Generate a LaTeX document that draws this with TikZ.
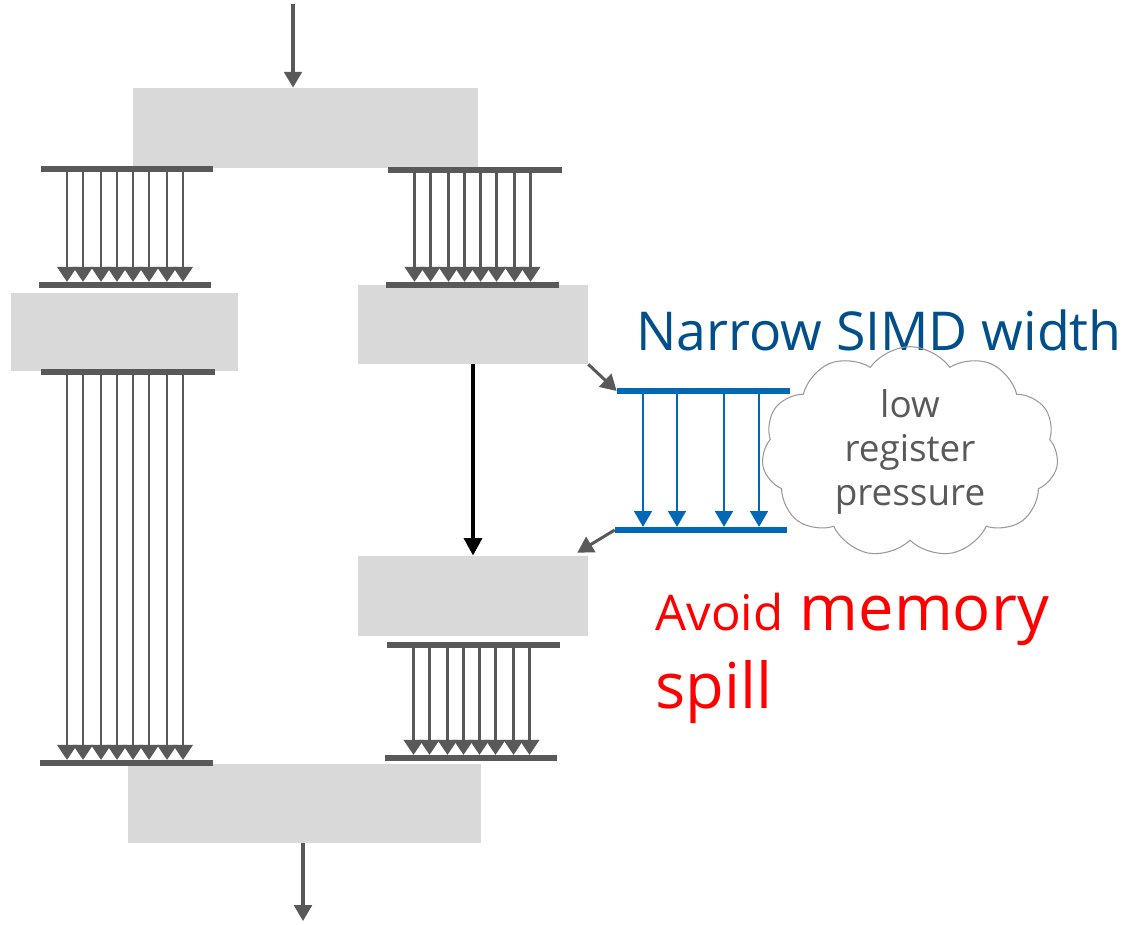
\documentclass[tikz,border=0pt]{standalone}
\usepackage{fontspec}
\setmainfont{Open Sans}
\usepackage{tikz}
\usetikzlibrary{arrows.meta, shapes.symbols, calc}
\definecolor{blkgray}{RGB}{217,217,217}
\definecolor{bargray}{RGB}{89,89,89}
\definecolor{simdblue}{RGB}{0,104,181}
\definecolor{titleblue}{RGB}{0,78,138}
\tikzset{
  blk/.style={rectangle, fill=blkgray, inner sep=0pt},
  bar/.style={rectangle, fill=bargray, minimum height=0.11cm, inner sep=0pt},
  nbar/.style={rectangle, fill=simdblue, minimum height=0.11cm, inner sep=0pt},
  lane/.style={-{Triangle[width=11pt,length=8.5pt]}, draw=bargray, line width=1.5pt},
  nlane/.style={-{Triangle[width=10pt,length=9pt]}, draw=simdblue, line width=1.6pt},
  link/.style={-{Triangle[width=10pt,length=9pt]}, draw=bargray, line width=1.7pt},
  io/.style={-{Triangle[width=10pt,length=9pt]}, draw=bargray, line width=1.9pt},
  flow/.style={-{Triangle[width=10pt,length=10pt]}, draw=black, line width=2.6pt},
  note/.style={cloud, cloud puffs=11, cloud puff arc=110, aspect=1.6, inner sep=0pt, draw=gray!80, line width=0.6pt, align=center, text=bargray, font=\fontsize{21}{25}\selectfont},
}

\begin{document}
\begin{tikzpicture}[x=0.02cm, y=-0.02cm]
\useasboundingbox (0,0) rectangle (1129,924);

% blocks
\node[blk, minimum width=6.9cm, minimum height=1.6cm] (topblk) at (305.5,128) {};
\node[blk, minimum width=4.54cm, minimum height=1.56cm] (leftblk) at (124.5,332) {};
\node[blk, minimum width=4.6cm, minimum height=1.58cm] (rtopblk) at (473,324.5) {};
\node[blk, minimum width=4.6cm, minimum height=1.6cm] (rbotblk) at (473,596) {};
\node[blk, minimum width=7.06cm, minimum height=1.58cm] (botblk) at (304.5,803.5) {};

% lane bars
\node[bar, minimum width=3.44cm] (tlA) at (127,169) {};
\node[bar, minimum width=3.44cm] (tlB) at (125,285) {};
\node[bar, minimum width=3.48cm] (trA) at (475,170) {};
\node[bar, minimum width=3.46cm] (trB) at (472.5,285) {};
\node[bar, minimum width=3.48cm] (llA) at (128,372) {};
\node[bar, minimum width=3.46cm] (llB) at (126.5,763) {};
\node[bar, minimum width=3.46cm] (rlA) at (473.5,645) {};
\node[bar, minimum width=3.44cm] (rlB) at (471,758) {};
\node[nbar, minimum width=3.46cm] (nA) at (703.5,391) {};
\node[nbar, minimum width=3.44cm] (nB) at (701,530) {};

% wide lanes
\foreach \d in {0,16,34,50,66,82,100,116} {
  \draw[lane] ({67+\d},0 |- tlA.south) -- ({67+\d},0 |- tlB.north);
  \draw[lane] ({414.5+\d},0 |- trA.south) -- ({414.5+\d},0 |- trB.north);
  \draw[lane] ({67+\d},0 |- llA.south) -- ({67+\d},0 |- llB.north);
  \draw[lane] ({413.5+\d},0 |- rlA.south) -- ({413.5+\d},0 |- rlB.north);
}

% narrow lanes
\foreach \x in {643,677,724,759}
  \draw[nlane] (\x,0 |- nA.south) -- (\x,0 |- nB.north);

\coordinate (src) at (293,4);
\coordinate (sink) at (303,921);
\draw[io] (src) -- (src |- topblk.north);
\draw[io] (botblk.south -| sink) -- (sink);
\draw[flow] (rtopblk.south) -- (rbotblk.north);
\draw[link] (rtopblk.south east) -- (nA.west);
\draw[link] (nB.west) -- ($(rbotblk.north east)+(-11,-3)$);

% labels
\node[anchor=base west, text=titleblue, font=\fontsize{30.5}{36}\selectfont, inner sep=0pt] (simdlbl) at (636,350) {Narrow SIMD width};
\node[note, minimum width=5.56cm, minimum height=3.5cm] (press) at (910,452) {low\\register\\pressure};
\node[anchor=north west, text=red, align=left, inner sep=0pt, font=\fontsize{36}{44}\selectfont] (spill) at (655,593) {{\fontsize{28}{30}\selectfont Avoid} memory\\spill};
\end{tikzpicture}
\end{document}
